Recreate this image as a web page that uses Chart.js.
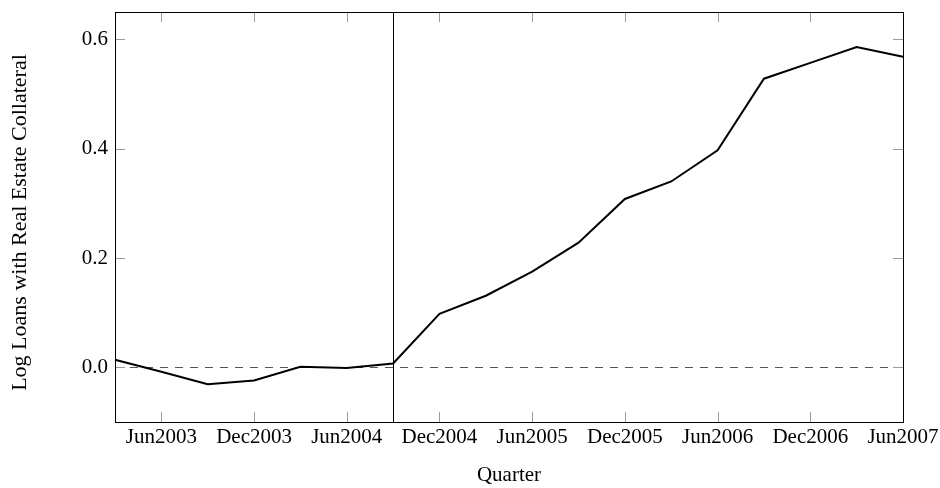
<!DOCTYPE html>
<html>
<head>
<meta charset="utf-8">
<script src="https://cdn.jsdelivr.net/npm/chart.js@4/dist/chart.umd.min.js"></script>
<style>
  html, body { margin: 0; padding: 0; background: #fff; }
  #wrap { width: 940px; height: 488px; }
</style>
</head>
<body>
<div id="wrap"><canvas id="chart" width="940" height="488"></canvas></div>
<script>
// quarters on the x axis
const quarters = ['Mar2003', 'Jun2003', 'Sep2003', 'Dec2003', 'Mar2004', 'Jun2004', 'Sep2004',
  'Dec2004', 'Mar2005', 'Jun2005', 'Sep2005', 'Dec2005', 'Mar2006', 'Jun2006', 'Sep2006',
  'Dec2006', 'Mar2007', 'Jun2007'];

// log loans with real estate collateral
const logLoans = [0.014, -0.008, -0.031, -0.024, 0.001, -0.001, 0.007, 0.098, 0.131, 0.175,
  0.228, 0.308, 0.340, 0.397, 0.528, 0.557, 0.586, 0.568];

const xTickLabels = ['Jun2003', 'Dec2003', 'Jun2004', 'Dec2004', 'Jun2005', 'Dec2005',
  'Jun2006', 'Dec2006', 'Jun2007'];
const yTickValues = [0.0, 0.2, 0.4, 0.6];

// reference lines
const eventQuarter = 'Sep2004';
const zeroLevel = 0;

const serif = '"Liberation Serif", "Times New Roman", serif';

// dashed zero line + vertical event line, drawn under the data
const refLines = {
  id: 'refLines',
  beforeDatasetsDraw(chart) {
    const { ctx, chartArea: a, scales: { x, y } } = chart;
    ctx.save();
    ctx.lineWidth = 1;
    ctx.strokeStyle = '#555';
    ctx.setLineDash([8, 7]);
    const y0 = Math.round(y.getPixelForValue(zeroLevel)) + 0.5;
    ctx.beginPath();
    ctx.moveTo(a.left, y0);
    ctx.lineTo(a.right, y0);
    ctx.stroke();

    ctx.setLineDash([]);
    ctx.strokeStyle = '#000';
    const xe = Math.round(x.getPixelForValue(quarters.indexOf(eventQuarter))) + 0.5;
    ctx.beginPath();
    ctx.moveTo(xe, a.top);
    ctx.lineTo(xe, a.bottom);
    ctx.stroke();
    ctx.restore();
  }
};

// pgfplots style frame with inward ticks on all sides
const frame = {
  id: 'frame',
  afterDraw(chart) {
    const { ctx, chartArea: a, scales: { x, y } } = chart;
    const len = 10;
    ctx.save();
    ctx.lineWidth = 1;
    ctx.strokeStyle = '#9a9a9a';
    ctx.beginPath();
    xTickLabels.forEach(q => {
      const px = Math.round(x.getPixelForValue(quarters.indexOf(q))) + 0.5;
      ctx.moveTo(px, a.bottom);
      ctx.lineTo(px, a.bottom - len);
      ctx.moveTo(px, a.top);
      ctx.lineTo(px, a.top + len);
    });
    yTickValues.forEach(v => {
      const py = Math.round(y.getPixelForValue(v)) + 0.5;
      ctx.moveTo(a.left, py);
      ctx.lineTo(a.left + len, py);
      ctx.moveTo(a.right, py);
      ctx.lineTo(a.right - len, py);
    });
    ctx.stroke();

    ctx.strokeStyle = '#000';
    ctx.strokeRect(Math.round(a.left) + 0.5, Math.round(a.top) + 0.5,
      Math.round(a.right - a.left), Math.round(a.bottom - a.top));
    ctx.restore();
  }
};

new Chart(document.getElementById('chart'), {
  type: 'line',
  data: {
    labels: quarters,
    datasets: [{
      label: 'Log Loans with Real Estate Collateral',
      data: logLoans,
      borderColor: '#000',
      borderWidth: 2,
      pointRadius: 0,
      tension: 0,
      fill: false,
    }],
  },
  options: {
    responsive: false,
    animation: false,
    devicePixelRatio: 1,
    layout: { padding: { left: 0, right: 37, top: 12, bottom: 0 } },
    plugins: {
      legend: { display: false },
      tooltip: { enabled: false },
    },
    scales: {
      x: {
        type: 'category',
        offset: false,
        grid: { display: false, drawTicks: false },
        border: { display: false },
        afterFit: (scale) => {
          scale.height = 66;
          scale.paddingLeft = 0;
          scale.paddingRight = 0;
        },
        ticks: {
          autoSkip: false,
          maxRotation: 0,
          padding: 3,
          color: '#000',
          font: { family: serif, size: 21 },
          callback: function (value) {
            const q = this.getLabelForValue(value);
            return xTickLabels.includes(q) ? q : '';
          },
        },
        title: {
          display: true,
          text: 'Quarter',
          color: '#000',
          font: { family: serif, size: 21 },
          padding: { top: 0, bottom: 0 },
        },
      },
      y: {
        min: -0.1,
        max: 0.65,
        grid: { display: false, drawTicks: false },
        border: { display: false },
        afterFit: (scale) => {
          scale.width = 115;
          scale.paddingTop = 0;
          scale.paddingBottom = 0;
        },
        afterBuildTicks: (scale) => {
          scale.ticks = yTickValues.map(v => ({ value: v }));
        },
        ticks: {
          padding: 7,
          color: '#000',
          font: { family: serif, size: 21 },
          callback: (value) => value.toFixed(1),
        },
        title: {
          display: true,
          text: 'Log Loans with Real Estate Collateral\u00a0\u00a0',
          color: '#000',
          font: { family: serif, size: 22 },
          padding: { top: 7, bottom: 0 },
        },
      },
    },
  },
  plugins: [refLines, frame],
});
</script>
</body>
</html>
